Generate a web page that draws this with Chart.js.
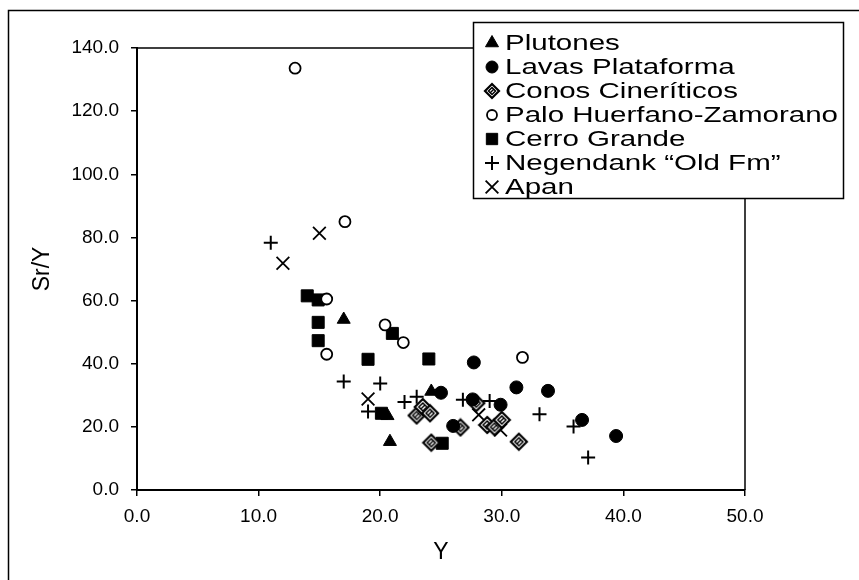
<!DOCTYPE html>
<html>
<head>
<meta charset="utf-8">
<script src="https://cdn.jsdelivr.net/npm/chart.js@4.4.0/dist/chart.umd.min.js"></script>
<style>
  html, body { margin: 0; padding: 0; background: #fff; }
  #wrap { width: 859px; height: 580px; }
</style>
</head>
<body>
<div id="wrap"><canvas id="chartSrY" width="859" height="580"></canvas></div>
<script>
// values: Y (ppm) vs Sr/Y
const seriesNames = ['Plutones', 'Lavas Plataforma', 'Conos Cineríticos', 'Palo Huerfano-Zamorano',
  'Cerro Grande', 'Negendank \u201cOld Fm\u201d', 'Apan'];

const plutonesY   = [17.0, 20.8, 20.6, 24.2];
const plutonesSrY = [54.0, 15.3, 23.5, 31.2];

const lavasY   = [25.0, 27.7, 27.6, 29.9, 31.2, 33.8, 36.6, 39.4, 26.0];
const lavasSrY = [30.8, 40.4, 28.7, 27.0, 32.5, 31.4, 22.2, 17.1, 20.3];

const conosY   = [23.0, 23.5, 24.1, 24.2, 26.6, 27.9, 28.8, 29.4, 30.0, 31.4];
const conosSrY = [23.6, 26.3, 24.3, 15.0, 19.8, 27.5, 20.6, 19.9, 22.2, 15.3];

const paloY   = [13.0, 17.1, 15.6, 15.6, 20.4, 21.9, 31.7];
const paloSrY = [133.6, 85.0, 60.5, 43.0, 52.3, 46.7, 42.0];

const cerroY   = [14.0, 14.9, 14.9, 14.9, 19.0, 21.0, 24.0, 20.1, 25.1];
const cerroSrY = [61.5, 60.2, 53.1, 47.3, 41.4, 49.6, 41.5, 24.3, 14.8];

const negendankY   = [11.0, 17.0, 20.0, 19.0, 22.0, 23.0, 26.8, 29.0, 33.1, 35.9, 37.1];
const negendankSrY = [78.3, 34.4, 33.7, 24.9, 27.9, 29.5, 28.6, 28.2, 24.0, 20.1, 10.3];

const apanY   = [12.0, 15.0, 19.0, 28.1, 29.9];
const apanSrY = [71.8, 81.3, 28.8, 23.8, 19.0];

const xTickValues = [0, 10, 20, 30, 40, 50];
const yTickValues = [0, 20, 40, 60, 80, 100, 120, 140];

const fontFamily = "'Liberation Sans', Arial, sans-serif";

function toPoints(xs, ys) {
  return xs.map((x, i) => ({ x: x, y: ys[i] }));
}

// diamond with a small inner diamond, like the Excel marker
function diamondMarker(r) {
  const c = document.createElement('canvas');
  const s = Math.ceil(r * 2 + 4);
  c.width = s; c.height = s;
  const g = c.getContext('2d');
  const m = s / 2;
  g.lineWidth = 2.2;
  g.strokeStyle = '#000';
  g.fillStyle = '#fff';
  g.beginPath();
  g.moveTo(m, m - r); g.lineTo(m + r, m); g.lineTo(m, m + r); g.lineTo(m - r, m); g.closePath();
  g.fill(); g.stroke();
  const q = r * 0.5;
  g.lineWidth = 1.5;
  g.beginPath();
  g.moveTo(m, m - q); g.lineTo(m + q, m); g.lineTo(m, m + q); g.lineTo(m - q, m); g.closePath();
  g.stroke();
  g.beginPath();
  g.moveTo(m - q / 2, m + q / 2); g.lineTo(m + q / 2, m - q / 2);
  g.stroke();
  return c;
}

const datasets = [
  { label: seriesNames[0], data: toPoints(plutonesY, plutonesSrY), pointStyle: 'triangle',
    pointRadius: 7.5, backgroundColor: '#000', borderColor: '#000', borderWidth: 1, legendRadius: 7.5 },
  { label: seriesNames[1], data: toPoints(lavasY, lavasSrY), pointStyle: 'circle',
    pointRadius: 6.5, backgroundColor: '#000', borderColor: '#000', borderWidth: 1, legendRadius: 6 },
  { label: seriesNames[2], data: toPoints(conosY, conosSrY), pointStyle: diamondMarker(8),
    pointRadius: 8, backgroundColor: '#fff', borderColor: '#000', borderWidth: 1, legendImage: diamondMarker(7) },
  { label: seriesNames[3], data: toPoints(paloY, paloSrY), pointStyle: 'circle',
    pointRadius: 5.5, backgroundColor: '#fff', borderColor: '#000', borderWidth: 1.8, legendRadius: 5 },
  { label: seriesNames[4], data: toPoints(cerroY, cerroSrY), pointStyle: 'rect',
    pointRadius: 8.5, backgroundColor: '#000', borderColor: '#000', borderWidth: 1, legendRadius: 8 },
  { label: seriesNames[5], data: toPoints(negendankY, negendankSrY), pointStyle: 'cross',
    pointRadius: 7, backgroundColor: '#000', borderColor: '#000', borderWidth: 2, legendRadius: 7 },
  { label: seriesNames[6], data: toPoints(apanY, apanSrY), pointStyle: 'crossRot',
    pointRadius: 9, backgroundColor: '#000', borderColor: '#000', borderWidth: 1.8, legendRadius: 9 }
];

// frame of the figure, box round the plot, and the legend box on top
const frameAndLegend = {
  id: 'frameAndLegend',
  beforeDatasetsDraw(chart) {
    const ctx = chart.ctx;
    const a = chart.chartArea;
    ctx.save();
    ctx.strokeStyle = '#000';
    ctx.lineWidth = 1.5;
    ctx.beginPath();
    ctx.moveTo(a.left, a.top);
    ctx.lineTo(a.right, a.top);
    ctx.lineTo(a.right, a.bottom);
    ctx.stroke();
    ctx.restore();
  },
  afterDraw(chart) {
    const ctx = chart.ctx;
    ctx.save();
    ctx.strokeStyle = '#000';
    ctx.lineWidth = 1.5;
    ctx.strokeRect(8.5, 10.5, 900, 620);

    const bx = 473, by = 22, bw = 370, bh = 176;
    ctx.fillStyle = '#fff';
    ctx.fillRect(bx, by, bw, bh);
    ctx.strokeRect(bx + 0.5, by + 0.5, bw, bh);

    const textX = 505, markX = 492;
    ctx.font = '22px ' + fontFamily;
    const maxW = Math.max(...seriesNames.map(n => ctx.measureText(n).width));
    const sx = (838 - textX) / maxW;

    chart.data.datasets.forEach((ds, i) => {
      const y = 43 + i * 24;
      ctx.fillStyle = ds.backgroundColor;
      ctx.strokeStyle = ds.borderColor;
      ctx.lineWidth = ds.borderWidth;
      if (ds.legendImage) {
        const im = ds.legendImage;
        ctx.drawImage(im, markX - im.width / 2, y - im.height / 2);
      } else {
        Chart.helpers.drawPoint(ctx, { pointStyle: ds.pointStyle, radius: ds.legendRadius,
          borderWidth: ds.borderWidth, rotation: 0 }, markX, y);
      }
      ctx.save();
      ctx.fillStyle = '#000';
      ctx.textBaseline = 'middle';
      ctx.textAlign = 'left';
      ctx.translate(textX, y + 1);
      ctx.scale(sx, 1);
      ctx.fillText(ds.label, 0, 0);
      ctx.restore();
    });
    ctx.restore();
  }
};

const config = {
  type: 'scatter',
  data: { datasets: datasets },
  options: {
    responsive: false,
    animation: false,
    devicePixelRatio: 1,
    layout: { padding: { left: 0, top: 48, right: 114, bottom: 0 } },
    plugins: { legend: { display: false }, tooltip: { enabled: false } },
    scales: {
      x: {
        type: 'linear', min: 0, max: 50,
        afterBuildTicks: s => { s.ticks = xTickValues.map(v => ({ value: v })); },
        afterFit: s => { s.height = 90; },
        ticks: { color: '#000', font: { family: fontFamily, size: 19 }, padding: 9, maxRotation: 0,
          callback: v => Number(v).toFixed(1) },
        grid: { drawOnChartArea: false, drawTicks: true, tickLength: 6, color: '#000', lineWidth: 1.5 },
        border: { display: true, color: '#000', width: 2 },
        title: { display: true, text: 'Y', color: '#000', font: { family: fontFamily, size: 23 },
          padding: { top: 0, bottom: 14 } }
      },
      y: {
        type: 'linear', min: 0, max: 140,
        afterBuildTicks: s => { s.ticks = yTickValues.map(v => ({ value: v })); },
        afterFit: s => { s.width = 137; },
        ticks: { color: '#000', font: { family: fontFamily, size: 19 }, padding: 12,
          callback: v => Number(v).toFixed(1) },
        grid: { drawOnChartArea: false, drawTicks: true, tickLength: 6, color: '#000', lineWidth: 1.5 },
        border: { display: true, color: '#000', width: 2 },
        title: { display: true, text: 'Sr/Y', color: '#000', font: { family: fontFamily, size: 23 },
          padding: { top: 29, bottom: 0 } }
      }
    }
  },
  plugins: [frameAndLegend]
};

const chartSrY = new Chart(document.getElementById('chartSrY'), config);
</script>
</body>
</html>
